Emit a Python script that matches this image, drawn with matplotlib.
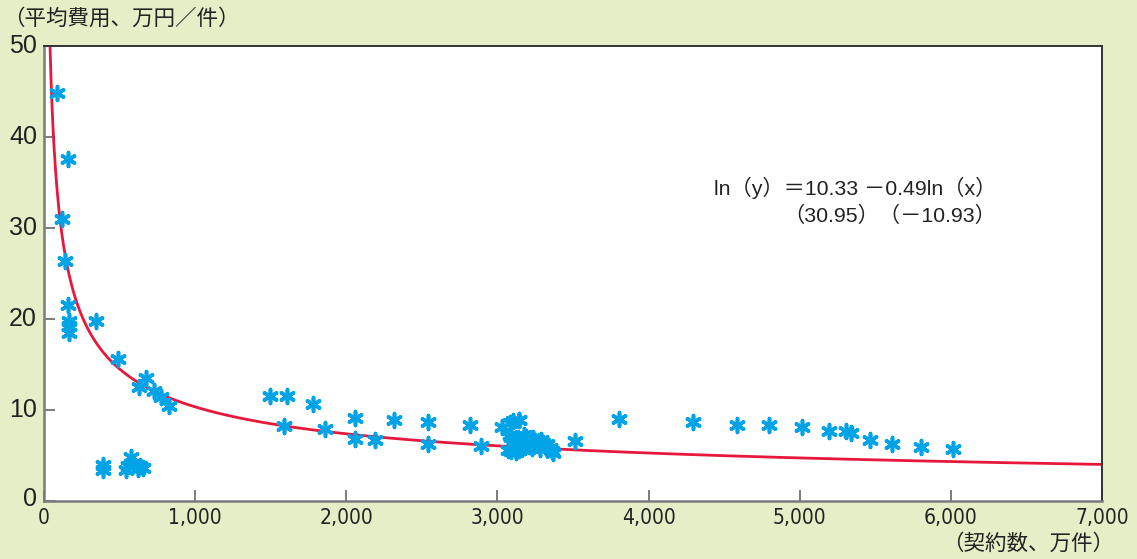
import numpy as np
import matplotlib
matplotlib.use("Agg")
import matplotlib.pyplot as plt

plt.rcParams['font.family'] = ['Liberation Sans', 'Noto Sans CJK JP', 'DejaVu Sans']

# ---- data ----
contracts = [84, 121, 161, 137, 161, 167, 167, 167, 344, 488, 631, 675, 728, 772, 829,
             392, 392, 574, 558, 545, 635, 653, 624,
             1496, 1610, 1782, 1590, 1858, 2060, 2060, 2188, 2314, 2543, 2543, 2819, 2894,
             3033, 3086, 3141, 3084, 3073, 3089, 3102, 3146,
             3090, 3110, 3130, 3150, 3160, 3175, 3190, 3200, 3210, 3220, 3235, 3250, 3265,
             3275, 3290, 3300, 3315, 3330, 3345, 3360, 3370, 3140, 3180, 3230, 3280, 3120,
             3514, 3805, 4297, 4584, 4796, 5014, 5193, 5306, 5339, 5462, 5612, 5802, 6014]
avg_cost = [44.8, 31.0, 37.6, 26.3, 21.5, 19.8, 19.2, 18.4, 19.7, 15.6, 12.5, 13.5, 12.1, 11.4, 10.4,
            3.9, 3.4, 4.8, 3.8, 3.4, 3.8, 3.6, 3.5,
            11.5, 11.5, 10.6, 8.2, 7.9, 9.05, 6.8, 6.7, 8.9, 8.6, 6.2, 8.3, 6.0,
            8.1, 8.5, 8.9, 7.2, 5.6, 7.0, 8.7, 8.9,
            5.5, 5.8, 6.0, 6.3, 6.8, 7.2, 7.0, 6.5, 6.0, 6.7, 6.9, 6.5, 6.1,
            6.6, 6.7, 6.3, 6.0, 6.2, 5.8, 5.5, 5.2, 5.6, 5.9, 5.8, 5.7, 5.3,
            6.6, 9.0, 8.6, 8.3, 8.3, 8.1, 7.7, 7.7, 7.4, 6.7, 6.2, 5.9, 5.7]

# fitted power curve y = A * x^(-B)
CURVE_A = 304.0
CURVE_B = 0.49

x_ticks = [0, 1000, 2000, 3000, 4000, 5000, 6000, 7000]
x_tick_labels = ['0', '1,000', '2,000', '3,000', '4,000', '5,000', '6,000', '7,000']
y_ticks = [0, 10, 20, 30, 40, 50]
y_tick_labels = ['0', '10', '20', '30', '40', '50']

y_title = '（平均費用、万円／件）'
x_title = '（契約数、万件）'
eq_line1 = 'ln（y）＝10.33 －0.49ln（x）'
eq_line2 = '（30.95）（－10.93）'

# ---- figure ----
BG = '#e6eec7'
W, H = 1137, 559
fig = plt.figure(figsize=(W / 100, H / 100), dpi=100, facecolor=BG)
ax = fig.add_axes([44 / W, 1 - 500.5 / H, (1102 - 44) / W, (500.5 - 46) / H])
ax.set_facecolor('white')

xc = np.linspace(25, 7000, 2000)
ax.plot(xc, CURVE_A * xc ** (-CURVE_B), color='#e8173c', lw=2.0, zorder=2, clip_on=True)

ax.scatter(contracts, avg_cost, marker=(6, 2, 0), s=100, linewidths=2.6,
           color='#00a3e6', zorder=3, clip_on=False)

ax.set_xlim(0, 7000)
ax.set_ylim(0, 50)
ax.set_xticks(x_ticks)
ax.set_xticklabels([])
ax.set_yticks(y_ticks)
ax.set_yticklabels([])
ax.tick_params(axis='both', direction='in', length=8, width=1.2, color='#666666')

for s in ['left', 'bottom']:
    ax.spines[s].set_color('#7a7a7a')
    ax.spines[s].set_linewidth(1.8)
for s in ['top', 'right']:
    ax.spines[s].set_color('#333333')
    ax.spines[s].set_linewidth(1.4)

TXT = '#222222'
for v, lab in zip(y_ticks, y_tick_labels):
    yf = ax.transData.transform((0, v))[1]
    fig.text(37 / W, yf / H if v != 0 else (yf + 2) / H, lab, ha='right', va='center',
             fontsize=18, color=TXT, family=['Liberation Sans'])
for v, lab in zip(x_ticks, x_tick_labels):
    xf = ax.transData.transform((v, 0))[0]
    fig.text(xf / W, 1 - 518 / H, lab, ha='center', va='center',
             fontsize=15, color=TXT, family=['DejaVu Sans'],
             fontstretch='condensed')

fig.text(3 / W, 1 - 19 / H, y_title, ha='left', va='center', fontsize=15.5,
         color=TXT, family=['Noto Sans CJK JP'])
fig.text(1114 / W, 1 - 544 / H, x_title, ha='right', va='center', fontsize=15.5,
         color=TXT, family=['Noto Sans CJK JP'])

fig.text(996 / W, 1 - 188 / H, eq_line1, ha='right', va='center', fontsize=15.3,
         color=TXT, family=['Liberation Sans', 'Noto Sans CJK JP'])
fig.text(996 / W, 1 - 216 / H, eq_line2, ha='right', va='center', fontsize=15.3,
         color=TXT, family=['Liberation Sans', 'Noto Sans CJK JP'])

fig.savefig('out.png', dpi=100, facecolor=BG)
